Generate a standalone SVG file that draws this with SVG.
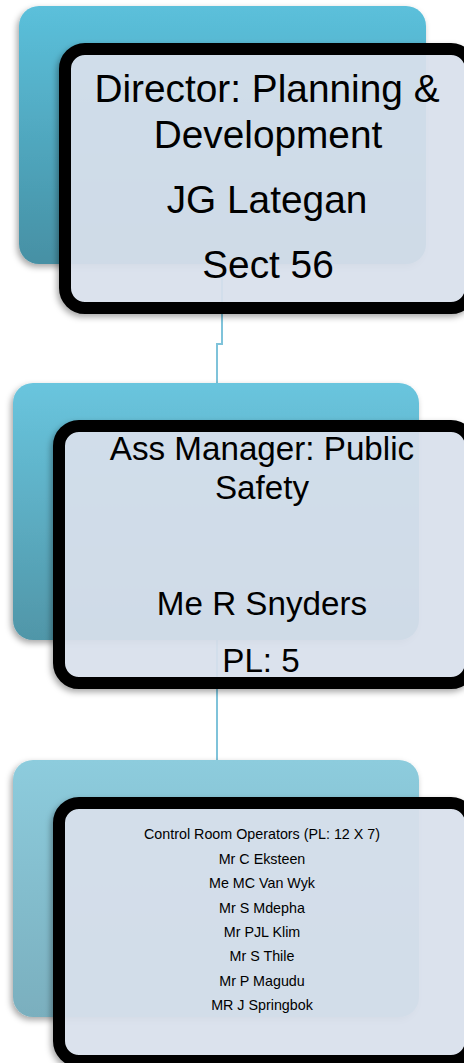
<svg xmlns="http://www.w3.org/2000/svg" width="464" height="1063" viewBox="0 0 464 1063">
  <defs>
    <linearGradient id="g1" x1="0" y1="0" x2="0" y2="1">
      <stop offset="0" stop-color="#5bc0db"/>
      <stop offset="1" stop-color="#4690a4"/>
    </linearGradient>
    <linearGradient id="g2" x1="0" y1="0" x2="0" y2="1">
      <stop offset="0" stop-color="#69c5de"/>
      <stop offset="1" stop-color="#5096a8"/>
    </linearGradient>
    <linearGradient id="g3" x1="0" y1="0" x2="0" y2="1">
      <stop offset="0" stop-color="#8dccdd"/>
      <stop offset="1" stop-color="#7aafbe"/>
    </linearGradient>
    <filter id="shadow" x="-10%" y="-10%" width="120%" height="125%">
      <feDropShadow dx="-2" dy="3" stdDeviation="3" flood-color="#000" flood-opacity="0.35"/>
    </filter>
  </defs>
  <style>
    .back { filter: url(#shadow); }
    .front { fill: rgb(219,227,239); fill-opacity: 0.9; stroke: #000; stroke-width: 12; filter: url(#shadow); }
    .conn { fill: none; stroke: #7fc3da; stroke-width: 2; }
    text { font-family: "Liberation Sans", Arial, sans-serif; fill: #000; text-anchor: middle; }
    .t1 { font-size: 38.8px; }
    .t2 { font-size: 33.2px; }
    .t3 { font-size: 14.3px; }
  </style>

  <rect width="464" height="1063" fill="#fff"/>

  <!-- connectors -->
  <g id="connectors">
    <path class="conn" d="M222,264 V344 H217 V383"/>
    <path class="conn" d="M217,640 V760"/>
  </g>

  <!-- Director -->
  <g id="node-director">
    <rect class="back" x="19" y="6" width="407" height="258" rx="20" fill="url(#g1)"/>
    <rect class="front" x="65" y="49" width="406" height="259" rx="20"/>
    <text class="t1" x="267" y="102">Director: Planning &amp;</text>
    <text class="t1" x="268" y="148">Development</text>
    <text class="t1" x="267" y="213">JG Lategan</text>
    <text class="t1" x="268" y="278">Sect 56</text>
  </g>

  <!-- Assistant manager -->
  <g id="node-ass-manager">
    <rect class="back" x="13" y="383" width="406" height="257" rx="20" fill="url(#g2)"/>
    <rect class="front" x="59" y="426" width="412" height="257" rx="20"/>
    <text class="t2" x="262" y="460">Ass Manager: Public</text>
    <text class="t2" x="262" y="499">Safety</text>
    <text class="t2" x="262" y="615">Me R Snyders</text>
    <text class="t2" x="261" y="672">PL: 5</text>
  </g>

  <!-- Control room operators -->
  <g id="node-operators">
    <rect class="back" x="13" y="760" width="406" height="257" rx="20" fill="url(#g3)"/>
    <rect class="front" x="59" y="803" width="412" height="258" rx="20"/>
    <text class="t3" x="262" y="839">Control Room Operators (PL: 12 X 7)</text>
    <text class="t3" x="262" y="864">Mr C Eksteen</text>
    <text class="t3" x="262" y="888">Me MC Van Wyk</text>
    <text class="t3" x="262" y="913">Mr S Mdepha</text>
    <text class="t3" x="262" y="937">Mr PJL Klim</text>
    <text class="t3" x="262" y="961">Mr S Thile</text>
    <text class="t3" x="262" y="986">Mr P Magudu</text>
    <text class="t3" x="262" y="1010">MR J Springbok</text>
  </g>
</svg>
